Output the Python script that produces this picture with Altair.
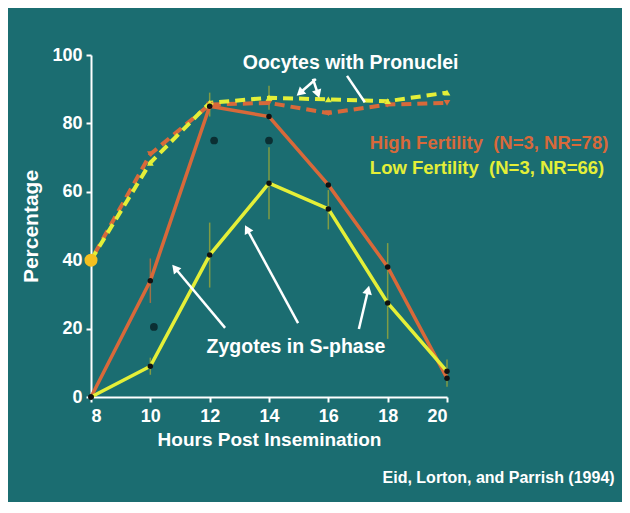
import math
import altair as alt
import pandas as pd

# ---- data ----
hours = [8, 10, 12, 14, 16, 18, 20]
zyg_high = [0, 34, 85, 82, 62, 38, 5.5]
zyg_low = [0, 9, 41.5, 62.5, 55, 27.5, 7.5]
ooc_high = [40, 71, 85.5, 86, 83, 85.5, 86]
ooc_low = [40, 68.5, 86, 87.5, 87, 86.5, 89]

extra_x = [10.12, 12.15, 14.0]
extra_y = [20.5, 75, 75]

err_x = [10, 12, 14, 16, 18, 20, 10, 12, 14]
err_lo = [6.5, 32, 52, 49, 17, 3, 27.5, 82, 84]
err_hi = [11.5, 51, 73, 60.5, 45, 11, 40.5, 89, 91]
err_grp = ["low", "low", "low", "low", "low", "low", "high", "low", "low"]

# arrows: tail (x1,y1) -> head (x2,y2) in data units
arr_x1 = [12.52, 14.98, 17.03, 15.58, 15.48, 16.63]
arr_y1 = [20.2, 21.6, 19.9, 93.0, 93.0, 93.9]
arr_x2 = [10.83, 13.26, 17.34, 15.04, 15.65, 17.23]
arr_y2 = [37.7, 49.1, 31.3, 88.9, 88.6, 86.2]
arr_head = [True, True, True, True, True, False]

ORANGE = "#d8693a"
YELLOW = "#e4ef38"
BG = "#1b6d71"
FONT = "Liberation Sans"
SP = "\u00a0\u00a0"

X_DOM = [8, 20]
Y_DOM = [0, 100]
W, H = 356, 342
px_hr = W / (X_DOM[1] - X_DOM[0])
px_pct = H / (Y_DOM[1] - Y_DOM[0])

xs = alt.Scale(domain=X_DOM, nice=False, zero=False)
ys = alt.Scale(domain=Y_DOM, nice=False)

zyg = pd.DataFrame({"h": hours * 2, "v": zyg_high + zyg_low,
                    "g": ["high"] * 7 + ["low"] * 7})
ooc_h = pd.DataFrame({"h": hours, "v": ooc_high})
ooc_l = pd.DataFrame({"h": hours, "v": ooc_low})
extra = pd.DataFrame({"h": extra_x, "v": extra_y})
err = pd.DataFrame({"h": err_x, "lo": err_lo, "hi": err_hi, "g": err_grp})
angles = []
for a, b, c, d in zip(arr_x1, arr_y1, arr_x2, arr_y2):
    dx = (c - a) * px_hr
    dy = -(d - b) * px_pct
    angles.append(math.degrees(math.atan2(dx, -dy)) % 360)
arr = pd.DataFrame({"x1": arr_x1, "y1": arr_y1, "x2": arr_x2, "y2": arr_y2,
                    "ang": angles, "head": arr_head})

X = alt.X("h:Q", scale=xs, axis=alt.Axis(
    values=hours, title="Hours Post Insemination", grid=False))
Y = alt.Y("v:Q", scale=ys, axis=alt.Axis(
    values=list(range(0, 101, 10)), grid=False, title="Percentage",
    labelExpr="datum.value % 20 == 0 ? datum.label : ''"))

errbars = alt.Chart(err).mark_rule(strokeWidth=1.5, opacity=0.8).encode(
    x=alt.X("h:Q", scale=xs), y=alt.Y("lo:Q", scale=ys), y2="hi:Q",
    color=alt.Color("g:N", scale=alt.Scale(domain=["high", "low"],
                    range=["#c0703c", "#9aa83a"]), legend=None))

line_high = alt.Chart(zyg).transform_filter("datum.g == 'high'").mark_line(
    color=ORANGE, strokeWidth=3.5).encode(x=X, y=Y)
line_low = alt.Chart(zyg).transform_filter("datum.g == 'low'").mark_line(
    color=YELLOW, strokeWidth=3.5).encode(x=X, y=Y)

ooc_line_h = alt.Chart(ooc_h).mark_line(
    color=ORANGE, strokeWidth=4, strokeDash=[10, 6], strokeDashOffset=8
).encode(x=X, y=Y)
ooc_line_l = alt.Chart(ooc_l).mark_line(
    color=YELLOW, strokeWidth=4, strokeDash=[10, 6]).encode(x=X, y=Y)
ooc_pts_h = alt.Chart(ooc_h).mark_point(
    shape="triangle-down", filled=True, color=ORANGE, size=45, opacity=1
).encode(x=X, y=Y)
ooc_pts_l = alt.Chart(ooc_l).mark_point(
    shape="triangle-up", filled=True, color=YELLOW, size=45, opacity=1
).encode(x=X, y=Y)
first_pt = alt.Chart(ooc_l).transform_filter("datum.h == 8").mark_circle(
    color="#f5c020", size=170, opacity=1).encode(x=X, y=Y)

dots = alt.Chart(zyg).mark_circle(color="#111111", size=30, opacity=1).encode(
    x=X, y=Y)
extra_dots = alt.Chart(extra).mark_circle(color="#0b2f33", size=60, opacity=1
                                          ).encode(x=X, y=Y)

arrows = alt.Chart(arr).mark_rule(color="white", strokeWidth=2.5).encode(
    x=alt.X("x1:Q", scale=xs), y=alt.Y("y1:Q", scale=ys),
    x2="x2:Q", y2="y2:Q")
heads = alt.Chart(arr).transform_filter("datum.head").mark_point(
    shape="triangle-up", filled=True, color="white", size=95, opacity=1
).encode(x=alt.X("x2:Q", scale=xs), y=alt.Y("y2:Q", scale=ys),
         angle=alt.Angle("ang:Q", scale=None))

txt = pd.DataFrame({
    "t": ["Oocytes with Pronuclei", "High Fertility" + SP + "(N=3, NR=78)",
          "Low Fertility" + SP + "(N=3, NR=66)", "Zygotes in S-phase",
          "Eid, Lorton, and Parrish (1994)"],
    "x": [16.75, 17.4, 17.4, 14.91, 25.65],
    "y": [97.7, 74.3, 67.0, 14.6, -23.7],
    "c": ["white", ORANGE, YELLOW, "white", "white"],
    "a": ["center", "left", "left", "center", "right"],
    "s": [19.5, 18.5, 18.5, 19.5, 16],
})


def tmark(i):
    row = txt.iloc[[i]]
    return alt.Chart(row).mark_text(
        font=FONT, fontWeight="bold", fontSize=float(row["s"].iloc[0]),
        align=row["a"].iloc[0], baseline="middle", color=row["c"].iloc[0]
    ).encode(x=alt.X("x:Q", scale=xs), y=alt.Y("y:Q", scale=ys), text="t:N")


texts = [tmark(i) for i in range(len(txt))]

chart = alt.layer(
    errbars, ooc_line_h, ooc_line_l, ooc_pts_h, ooc_pts_l, first_pt,
    line_high, line_low, dots, extra_dots, arrows, heads, *texts
).properties(
    width=W, height=H, background=BG,
    padding={"left": 83, "top": 47, "right": 175, "bottom": 105},
    autosize=alt.AutoSizeParams(type="none"),
).configure_view(stroke=None).configure_axis(
    domainColor="white", domainWidth=2, tickColor="white", tickWidth=2,
    tickSize=5, labelColor="white", labelFont=FONT, labelFontWeight="bold",
    labelFontSize=18, titleColor="white", titleFont=FONT,
    titleFontWeight="bold",
).configure_axisX(labelPadding=5, titlePadding=5, titleFontSize=19
                  ).configure_axisY(labelPadding=4, titlePadding=10,
                                    titleFontSize=21)

chart.save("out.html", embed_options={"renderer": "svg", "actions": False})
